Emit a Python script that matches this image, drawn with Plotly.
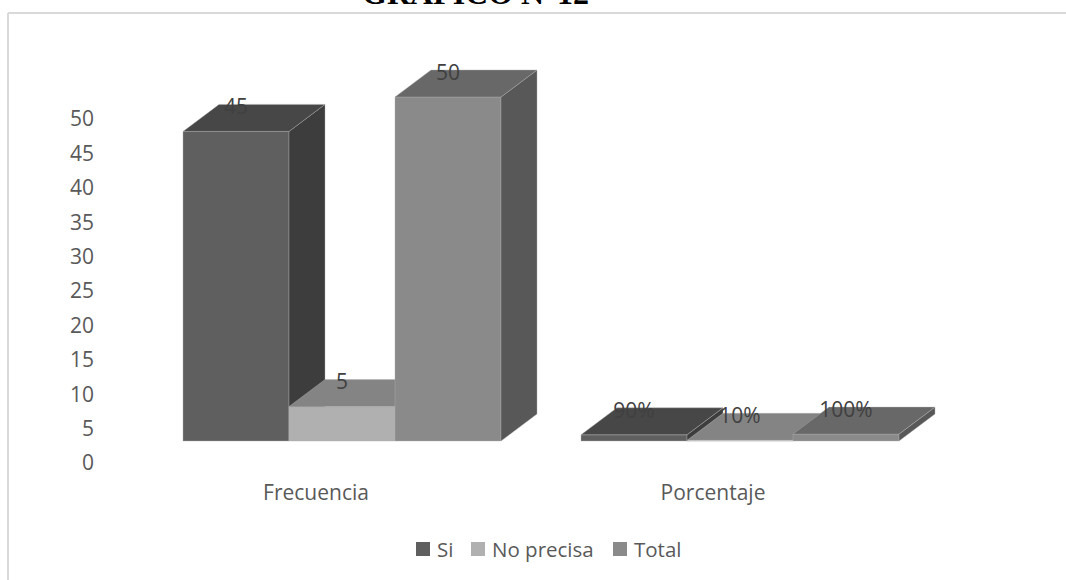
import plotly.graph_objects as go

# Survey results: one bar per answer in each category
categories = ["Frecuencia", "Porcentaje"]
series_names = ["Si", "No precisa", "Total"]
frecuencia = [45, 5, 50]
porcentaje = [0.90, 0.10, 1.00]
value_labels = [["45", "5", "50"], ["90%", "10%", "100%"]]
y_ticks = [0, 5, 10, 15, 20, 25, 30, 35, 40, 45, 50]

# Face colours per series: front, top, side
front_colors = ["#5f5f5f", "#b0b0b0", "#8a8a8a"]
top_colors = ["#474747", "#848484", "#686868"]
side_colors = ["#3d3d3d", "#6a6a6a", "#585858"]

W, H = 1066, 580
M_L, M_B = 95, 102
plot_w, plot_h = W - M_L, H - M_B

# Pixel scale of the value and category axes
PX_PER_UNIT = 6.88
PX_PER_CAT = 398.0
BAR_W = 106 / PX_PER_CAT
DEPTH_X = 36 / PX_PER_CAT
DEPTH_Y = 27 / PX_PER_UNIT
LABEL_RISE = 22.5 / PX_PER_UNIT
EDGE = "rgba(176,176,176,0.4)"


def axis_range(origin_px, scale, low_px, high_px):
    return [(low_px - origin_px) / scale, (high_px - origin_px) / scale]


def px_x(px):
    return (px - M_L) / plot_w


def px_y(px):
    return (plot_h - px) / plot_h


fig = go.Figure()

# Axis-carrying trace so the tick labels stay visible
fig.add_trace(go.Scatter(x=[0, 1], y=[0, 50], xaxis="x", yaxis="y", mode="markers",
                         marker=dict(opacity=0), showlegend=False, hoverinfo="skip"))

groups = [frecuencia, porcentaje]
for g, values in enumerate(groups):
    for s, v in enumerate(values):
        x0 = g + (s - 1.5) * BAR_W
        x1 = x0 + BAR_W
        faces = [
            ([x0, x1, x1, x0, x0], [0, 0, v, v, 0], front_colors[s]),
            ([x1, x1 + DEPTH_X, x1 + DEPTH_X, x1, x1],
             [0, DEPTH_Y, v + DEPTH_Y, v, 0], side_colors[s]),
            ([x0, x1, x1 + DEPTH_X, x0 + DEPTH_X, x0],
             [v, v, v + DEPTH_Y, v + DEPTH_Y, v], top_colors[s]),
        ]
        for fx, fy, color in faces:
            fig.add_trace(go.Scatter(x=fx, y=fy, xaxis="x2", yaxis="y2", mode="lines",
                                     fill="toself", fillcolor=color, name=series_names[s],
                                     line=dict(color=EDGE, width=1),
                                     showlegend=False, hoverinfo="skip"))

# Value labels above each bar
for g, values in enumerate(groups):
    fig.add_trace(go.Scatter(
        x=[g + (s - 1) * BAR_W for s in range(3)],
        y=[v + LABEL_RISE for v in values],
        xaxis="x2", yaxis="y2", mode="text", text=value_labels[g],
        textposition="middle center",
        textfont=dict(family="Open Sans", size=21, color="#404040"),
        showlegend=False, hoverinfo="skip"))

# Key under the chart: swatch and caption for each series
key_swatch_px = [416, 471, 613]
key_size = 14
key_y = 549
key_shapes = []
key_notes = []
for name, color, left in zip(series_names, front_colors, key_swatch_px):
    key_shapes.append(dict(type="rect", xref="paper", yref="paper", layer="above",
                           x0=px_x(left), x1=px_x(left + key_size),
                           y0=px_y(key_y + key_size / 2), y1=px_y(key_y - key_size / 2),
                           fillcolor=color, line=dict(width=0)))
    key_notes.append(dict(text=name, xref="paper", yref="paper", showarrow=False,
                          x=px_x(left + key_size + 5), y=px_y(key_y),
                          xanchor="left", yanchor="middle",
                          font=dict(family="Open Sans", size=20.5, color="#595959")))

tick_font = dict(family="Open Sans", size=21, color="#595959")
fig.update_layout(
    width=W, height=H, autosize=False,
    margin=dict(l=M_L, r=0, t=0, b=M_B, pad=0),
    paper_bgcolor="white", plot_bgcolor="white",
    xaxis=dict(range=axis_range(316, 397, M_L, W), tickmode="array", tickvals=[0, 1],
               ticktext=categories, showgrid=False, zeroline=False, showline=False,
               ticks="", tickfont=tick_font, fixedrange=True),
    yaxis=dict(range=axis_range(463, -PX_PER_UNIT, plot_h, 0), tickmode="array",
               tickvals=y_ticks, showgrid=False, zeroline=False, showline=False,
               ticks="", tickfont=tick_font, fixedrange=True),
    xaxis2=dict(range=axis_range(342, PX_PER_CAT, M_L, W), overlaying="x", visible=False,
                fixedrange=True),
    yaxis2=dict(range=axis_range(441, -PX_PER_UNIT, plot_h, 0), overlaying="y", visible=False,
                fixedrange=True),
    showlegend=False,
    annotations=[dict(text="<b>GRÁFICO N°12</b>", xref="paper", yref="paper",
                      x=px_x(475), y=px_y(-7), xanchor="center", yanchor="middle",
                      showarrow=False,
                      font=dict(family="Liberation Serif", size=32, color="black"))] + key_notes,
    shapes=[
        dict(type="line", xref="paper", yref="paper", x0=px_x(8), x1=px_x(W),
             y0=px_y(13), y1=px_y(13), line=dict(color="#d9d9d9", width=2)),
        dict(type="line", xref="paper", yref="paper", x0=px_x(8), x1=px_x(8),
             y0=px_y(13), y1=px_y(H), line=dict(color="#d9d9d9", width=2)),
    ] + key_shapes,
)

fig.write_html("out.html")
